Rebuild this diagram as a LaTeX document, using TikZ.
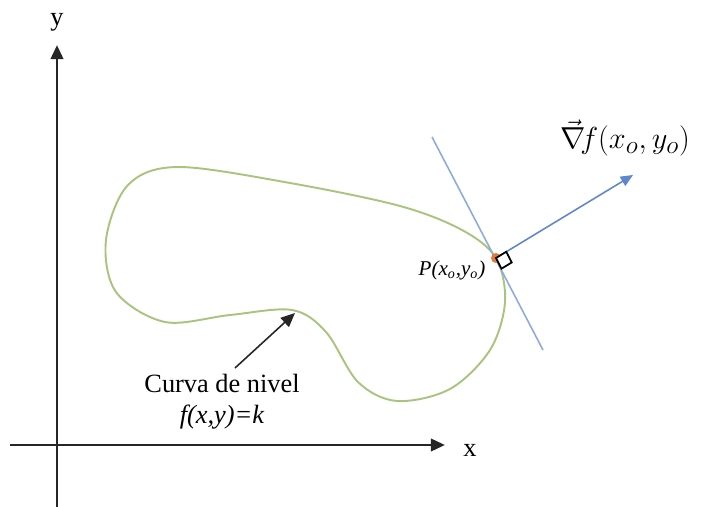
\documentclass[tikz,border=0pt]{standalone}
\usepackage{fontspec}
\setmainfont{Liberation Serif}
\usetikzlibrary{positioning,arrows.meta,calc}
\definecolor{levelgreen}{HTML}{A8C47E}
\definecolor{tanblue}{HTML}{8FAADC}
\definecolor{gradblue}{HTML}{4472C4}
\definecolor{ptorange}{HTML}{E07B39}

\begin{document}
\begin{tikzpicture}[x=0.02cm, y=-0.02cm,
    axis/.style={-{Triangle[length=8pt,width=7pt]}, line width=1.6pt, black!85},
    level/.style={draw=levelgreen, line width=1.1pt},
    tangent/.style={draw=tanblue, line width=0.9pt},
    grad/.style={-{Triangle[length=7pt,width=6pt]}, gradblue!85, line width=0.9pt},
    pointer/.style={-{Triangle[length=8pt,width=7pt]}, line width=0.9pt, black!85},
    lbl/.style={font=\fontsize{15}{17}\selectfont, inner sep=1pt, align=center},
]
  \useasboundingbox (0,0) rectangle (704,507);
  %% axes
  \coordinate (ybot) at (57,507);  \coordinate (ytop) at (57,45);
  \coordinate (xleft) at (10,445); \coordinate (xright) at (445,445);
  \draw[axis] (ybot) -- (ytop);
  \draw[axis] (xleft) -- (xright);
  \node[lbl] (ylab) at (57,22) {y};
  \node[lbl] (xlab) at (470,450) {x};
  %% level curve
  \draw[level] plot[smooth cycle, tension=0.55] coordinates {
    (496,258) (505,302) (490,350) (450,389) (397,401) (358,382) (326,332)
    (292,310) (230,315) (165,322) (116,292) (106,240) (128,185) (178,167)
    (290,183) (400,206) (462,230)};
  %% tangent line and gradient
  \coordinate (P) at (496,258);
  \coordinate (ttop) at (432,137); \coordinate (tbot) at (543,350);
  \coordinate (G) at (633,175);
  \draw[tangent] (ttop) -- (tbot);
  \draw[grad] (P) -- (G);
  \fill[ptorange] (P) circle (5);
  \coordinate (sqa) at ($(P)!0.24cm!(tbot)$);
  \coordinate (sqb) at ($(P)!0.24cm!(G)$);
  \draw[black, line width=1pt, fill=white] (P) -- (sqa) -- ($(sqa)+(sqb)-(P)$) -- (sqb) -- cycle;
  \node[font=\fontsize{12}{14}\selectfont\itshape, inner sep=1pt] (plab) at (452,270)
       {P(x\textsubscript{o},y\textsubscript{o})};
  \node[font=\fontsize{19}{22}\selectfont, inner sep=1pt] (glab) at (625,138)
       {$\vec{\nabla}\! f(x_o,y_o)$};
  %% label of the curve
  \node[lbl] (curva) at (222,383) {Curva de nivel};
  \node[lbl, below=5pt of curva, font=\fontsize{15}{17}\selectfont\itshape] (fk) {f(x,y)=k};
  \coordinate (ptail) at (235,368);
  \coordinate (bump) at (295,313);
  \draw[pointer] (ptail) -- (bump);
\end{tikzpicture}
\end{document}
